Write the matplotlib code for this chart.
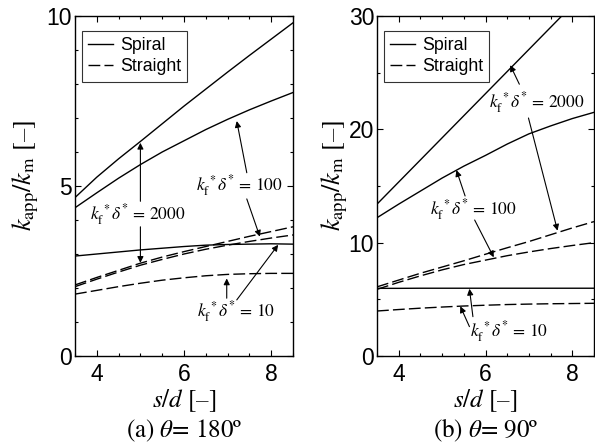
import numpy as np
import matplotlib
matplotlib.use('Agg')
from matplotlib import pyplot as plt

plt.rcParams['mathtext.fontset'] = 'stix'
plt.rcParams['font.family'] = ['Liberation Sans', 'DejaVu Sans']
plt.rcParams['lines.scale_dashes'] = False

################################################################################
#  Data
################################################################################
sd = [3.5, 4.0, 4.5, 5.0, 5.5, 6.0, 6.5, 7.0, 7.5, 8.0, 8.5]

# (a) theta = 180
a_spiral_2000 = [4.66, 5.26, 5.80, 6.31, 6.83, 7.35, 7.85, 8.35, 8.84, 9.32, 9.80]
a_spiral_100 = [4.36, 4.80, 5.23, 5.63, 6.00, 6.33, 6.66, 6.96, 7.24, 7.50, 7.75]
a_spiral_10 = [2.94, 3.00, 3.06, 3.12, 3.17, 3.22, 3.26, 3.28, 3.29, 3.30, 3.29]
a_straight_2000 = [2.09, 2.31, 2.52, 2.73, 2.91, 3.07, 3.22, 3.37, 3.52, 3.66, 3.80]
a_straight_100 = [2.04, 2.26, 2.47, 2.67, 2.84, 3.00, 3.14, 3.26, 3.37, 3.47, 3.56]
a_straight_10 = [1.82, 1.93, 2.04, 2.14, 2.23, 2.30, 2.36, 2.40, 2.42, 2.43, 2.43]

# (b) theta = 90
b_spiral_2000 = [13.4, 15.35, 17.3, 19.25, 21.2, 23.15, 25.1, 27.05, 29.0, 30.95, 32.9]
b_spiral_100 = [12.2, 13.4, 14.55, 15.7, 16.75, 17.7, 18.7, 19.6, 20.3, 20.95, 21.5]
b_spiral_10 = [5.97, 5.97, 5.98, 5.98, 5.98, 5.98, 5.98, 5.98, 5.98, 5.98, 5.98]
b_straight_2000 = [6.10, 6.70, 7.30, 7.85, 8.40, 8.98, 9.55, 10.1, 10.7, 11.3, 11.86]
b_straight_100 = [5.88, 6.50, 7.07, 7.60, 8.07, 8.46, 8.85, 9.18, 9.48, 9.75, 10.0]
b_straight_10 = [3.97, 4.10, 4.22, 4.32, 4.41, 4.48, 4.54, 4.58, 4.61, 4.63, 4.65]

DASH = (0, (8.5, 3))
SERIF = 'STIXGeneral'


def kd_label(val):
    return r'$k_\mathrm{f}^{\,*}\delta^{*}$ = ' + val


def arrow(ax, start, tip):
    ax.annotate('', xy=tip, xytext=start,
                arrowprops=dict(arrowstyle='-|>', lw=0.8, color='k',
                                mutation_scale=9, shrinkA=0, shrinkB=0))


def style_axes(ax, ymax, ymajor, yminor):
    ax.set_xlim(3.5, 8.5)
    ax.set_ylim(0, ymax)
    ax.set_xticks([4, 6, 8])
    ax.set_xticks(np.arange(3.5, 8.51, 0.5), minor=True)
    ax.set_yticks(np.arange(0, ymax + 0.1, ymajor))
    ax.set_yticks(np.arange(0, ymax + 0.1, yminor), minor=True)
    ax.tick_params(which='both', direction='in', top=True, right=True, width=0.8)
    ax.tick_params(which='major', length=4)
    ax.tick_params(which='minor', length=2.5)
    ax.tick_params(axis='x', labelsize=16.5, pad=5)
    ax.tick_params(axis='y', labelsize=16.5, pad=2)
    for s in ax.spines.values():
        s.set_linewidth(1.0)
    ax.set_xlabel(r'$s/d$ [–]', fontsize=18, family=SERIF)
    ax.xaxis.set_label_coords(0.5, -0.092)
    ax.xaxis.label.set_va('top')
    ax.set_ylabel(r'$k_\mathrm{app}/k_\mathrm{m}$ [–]', fontsize=19, family=SERIF)
    ax.yaxis.label.set_va('center')
    leg = ax.legend(loc='upper left', bbox_to_anchor=(0.03, 0.957), borderaxespad=0,
                    fancybox=False, edgecolor='k', fontsize=12.8, handlelength=1.4,
                    handletextpad=0.4, borderpad=0.35, labelspacing=0.25)
    leg.get_frame().set_linewidth(0.8)


fig = plt.figure(figsize=(5.95, 4.46), dpi=100)
ax1 = fig.add_axes([75/595, 1 - 356/446, 218/595, 340/446])
ax2 = fig.add_axes([377/595, 1 - 356/446, 217/595, 340/446])

################################################################################
#  (a) theta = 180
################################################################################
ax1.plot(sd, a_spiral_2000, 'k-', lw=1.0, label='Spiral')
ax1.plot(sd, a_straight_2000, 'k', ls=DASH, lw=1.0, label='Straight')
ax1.plot(sd, a_spiral_100, 'k-', lw=1.0)
ax1.plot(sd, a_spiral_10, 'k-', lw=1.0)
ax1.plot(sd, a_straight_100, 'k', ls=DASH, lw=1.0)
ax1.plot(sd, a_straight_10, 'k', ls=DASH, lw=1.0)
style_axes(ax1, 10, 5, 1)
ax1.yaxis.set_label_coords(-0.225, 0.53)

ax1.text(4.93, 4.15, kd_label('2000'), fontsize=12.5, family=SERIF, ha='center', va='center')
arrow(ax1, (5.0, 4.55), (5.0, 6.27))
arrow(ax1, (5.0, 3.8), (5.0, 2.74))
ax1.text(7.26, 5.0, kd_label('100'), fontsize=12.5, family=SERIF, ha='center', va='center')
arrow(ax1, (7.44, 5.39), (7.21, 6.91))
arrow(ax1, (7.44, 4.62), (7.74, 3.51))
ax1.text(7.2, 1.3, kd_label('10'), fontsize=12.5, family=SERIF, ha='center', va='center')
arrow(ax1, (6.98, 1.70), (6.98, 2.28))
arrow(ax1, (7.21, 1.65), (8.16, 3.27))

################################################################################
#  (b) theta = 90
################################################################################
ax2.plot(sd, b_spiral_2000, 'k-', lw=1.0, label='Spiral')
ax2.plot(sd, b_straight_2000, 'k', ls=DASH, lw=1.0, label='Straight')
ax2.plot(sd, b_spiral_100, 'k-', lw=1.0)
ax2.plot(sd, b_spiral_10, 'k-', lw=1.0)
ax2.plot(sd, b_straight_100, 'k', ls=DASH, lw=1.0)
ax2.plot(sd, b_straight_10, 'k', ls=DASH, lw=1.0)
style_axes(ax2, 30, 10, 5)
ax2.yaxis.set_label_coords(-0.195, 0.53)

ax2.text(7.17, 22.36, kd_label('2000'), fontsize=12.5, family=SERIF, ha='center', va='center')
arrow(ax2, (6.78, 23.98), (6.57, 25.66))
arrow(ax2, (6.99, 21.0), (7.66, 11.06))
ax2.text(5.73, 12.9, kd_label('100'), fontsize=12.5, family=SERIF, ha='center', va='center')
arrow(ax2, (5.53, 14.12), (5.33, 16.4))
arrow(ax2, (5.75, 12.0), (6.19, 8.71))
ax2.text(6.55, 2.15, kd_label('10'), fontsize=12.5, family=SERIF, ha='center', va='center')
arrow(ax2, (5.71, 3.47), (5.63, 5.93))
arrow(ax2, (5.63, 2.59), (5.42, 4.38))

fig.text(184/595, 1 - 444/446, r'(a) $\theta$= 180º', fontsize=18, family=SERIF,
         ha='center', va='bottom')
fig.text(486/595, 1 - 444/446, r'(b) $\theta$= 90º', fontsize=18, family=SERIF,
         ha='center', va='bottom')

fig.savefig('out.png', dpi=100)
